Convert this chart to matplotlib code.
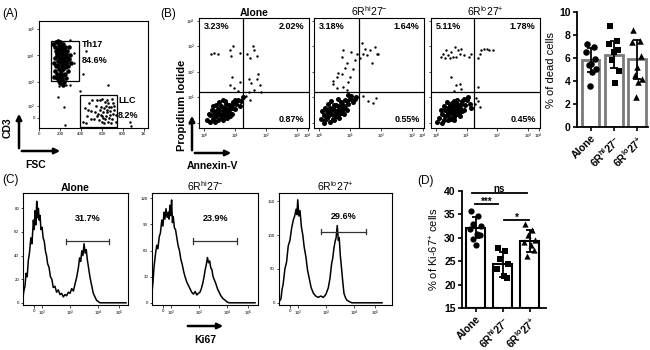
import matplotlib
matplotlib.use("Agg")
import matplotlib.pyplot as plt
from matplotlib.patches import Rectangle, FancyArrowPatch
import numpy as np

plt.rcParams['font.family'] = ['Liberation Sans', 'DejaVu Sans']
plt.rcParams['mathtext.default'] = 'regular'

W, H = 650, 350

# ---------------- data ----------------
# (A) FSC vs CD3 (CD3 in display decades)
th17_pts = [(150,4.3),(170,4.1),(190,4.4),(210,4.2),(230,4.0),(250,4.3),(270,3.9),(180,3.8),
            (200,3.9),(220,3.7),(240,3.8),(260,3.6),(160,3.6),(190,3.5),(210,3.4),(230,3.5),
            (250,3.3),(280,3.4),(170,3.3),(200,3.2),(220,3.1),(240,3.0),(150,3.9),(175,4.0),
            (195,4.1),(215,3.95),(235,4.15),(255,4.05),(205,4.5),(225,4.45),(185,3.65),(245,3.55),
            (265,3.75),(290,3.85),(300,4.0),(160,4.15),(140,3.7),(215,3.6),(230,3.85),(210,3.75),
            (190,3.95),(200,4.3),(240,4.25),(180,4.25),(270,4.15),(220,4.3),(205,3.3),(195,3.05),
            (225,3.25),(260,3.15),(280,3.6),(310,3.7),(150,3.4),(170,3.15),(200,2.95),(230,2.9),
            (215,4.05),(185,4.55),(245,3.65),(255,3.95),(135,4.45),(165,4.5),(285,4.3),(145,3.2)]
th17_out = [(300,4.6),(330,4.1),(330,3.7),(300,2.9),(260,2.9),(190,2.85),(181,2.43),(238,2.06),
            (248,1.38),(390,2.66),(657,2.89),(867,1.49),(880,1.35),(419,3.3),(448,4.17)]
llc_pts = [(420,1.5),(440,2.0),(460,1.7),(480,2.2),(500,1.9),(520,1.6),(540,2.1),(560,1.8),
           (580,2.3),(600,1.5),(620,2.0),(640,1.7),(660,2.2),(680,1.9),(700,1.6),(720,2.1),
           (570,1.55),(590,1.75),(610,1.85),(630,1.6),(650,1.95),(670,1.65),(690,2.05),(710,1.8),
           (730,1.5),(550,2.3),(600,2.35),(650,2.3),(700,2.35),(620,1.45),(660,1.5),(690,1.45),
           (530,1.85),(510,2.3),(450,1.45),(470,1.95),(590,2.05),(640,2.1),(675,1.75),(720,1.95),
           (600,1.7),(615,1.65),(645,1.85),(705,2.2),(735,1.75),(495,1.6),(555,1.7),(585,1.95),
           (625,2.25),(665,2.05)]
th17_pct, llc_pct = "84.6%", "8.2%"

# (B) Annexin-V vs PI (display decades)
flow_titles = ["Alone", "6R$^{hi}$27$^{-}$", "6R$^{lo}$27$^{+}$"]
core_alone = [(0.1,0.1),(0.2,0.3),(0.3,0.15),(0.35,0.4),(0.4,0.25),(0.45,0.55),(0.5,0.35),(0.55,0.2),
              (0.6,0.45),(0.65,0.6),(0.7,0.3),(0.75,0.5),(0.8,0.7),(0.85,0.4),(0.9,0.6),(0.95,0.8),
              (1.0,0.55),(1.05,0.75),(1.1,0.9),(1.2,0.85),(0.25,0.5),(0.3,0.65),(0.4,0.7),(0.5,0.8),
              (0.55,0.65),(0.6,0.9),(0.7,0.75),(0.45,0.1),(0.6,0.1),(0.75,0.2),(0.85,0.25),(0.15,0.35),
              (0.2,0.05),(0.35,0.05),(0.5,0.5),(0.65,0.4),(0.8,0.55),(0.9,0.35),(1.0,0.9),(1.15,0.65),
              (0.4,0.45),(0.55,0.3),(0.7,0.55),(0.3,0.3),(0.45,0.35),(0.62,0.25),(0.78,0.38),
              (0.92,0.7),(0.68,0.85),(1.25,1.0)]
sparse_alone = [(0.22,2.7),(0.32,2.73),(0.46,2.68),(0.84,2.83),(0.95,3.0),(0.87,2.6),(1.16,2.73),
                (0.91,1.81),(0.84,1.47),(0.97,1.37),(1.11,1.25),(1.16,1.59),(1.38,2.7),(1.58,3.0),
                (1.6,2.83),(1.48,2.53),(1.7,2.6),(1.75,1.92),(1.7,1.73),(1.45,1.7),(1.52,1.57),
                (1.8,1.5),(1.45,1.2),(1.6,1.28),(1.85,1.22),(1.5,0.91),(1.35,1.05)]
core_hi = [(0.05,0.15),(0.15,0.3),(0.2,0.1),(0.25,0.45),(0.3,0.25),(0.35,0.6),(0.4,0.35),(0.45,0.15),
           (0.5,0.5),(0.55,0.7),(0.6,0.3),(0.65,0.55),(0.7,0.8),(0.75,0.45),(0.8,0.65),(0.85,0.9),
           (0.9,0.5),(0.95,0.75),(1.0,0.95),(1.1,0.8),(1.2,1.0),(0.1,0.45),(0.2,0.6),(0.3,0.75),
           (0.4,0.85),(0.5,0.3),(0.55,0.45),(0.6,0.95),(0.7,0.6),(0.8,0.35),(0.35,0.05),(0.5,0.1),
           (0.65,0.2),(0.15,0.0),(0.45,0.55),(0.6,0.65),(0.75,0.75),(0.9,0.85),(1.05,1.05),(0.25,0.2),
           (0.4,0.5),(0.55,0.25),(0.7,0.4),(0.85,0.6),(0.3,0.4),(0.48,0.68),(0.62,0.48),(0.78,0.58),
           (1.15,0.95),(0.95,1.1)]
sparse_hi = [(0.46,1.65),(0.57,1.78),(0.73,1.9),(0.84,2.15),(0.89,2.33),(0.73,2.58),(1.05,2.77),
             (0.57,1.35),(0.78,1.41),(0.95,1.59),(1.11,2.09),(1.16,2.46),(1.22,2.7),(1.0,1.78),
             (0.44,1.53),(0.62,1.96),(0.89,1.28),(0.78,2.83),(1.38,3.14),(1.48,2.89),(1.65,2.83),
             (1.81,2.95),(1.92,2.7),(1.7,2.33),(1.42,2.7),(1.55,2.64),(1.87,2.7),(1.33,2.52),
             (1.57,0.85),(1.73,0.79),(1.84,0.98),(1.41,1.04)]
core_lo = [(0.1,0.2),(0.2,0.35),(0.25,0.1),(0.3,0.5),(0.35,0.3),(0.4,0.6),(0.45,0.2),(0.5,0.4),
           (0.55,0.65),(0.6,0.3),(0.65,0.5),(0.7,0.75),(0.75,0.4),(0.8,0.6),(0.85,0.85),(0.9,0.5),
           (0.95,0.7),(1.0,0.9),(1.1,0.75),(0.15,0.5),(0.25,0.65),(0.35,0.8),(0.45,0.45),(0.5,0.15),
           (0.55,0.5),(0.6,0.85),(0.7,0.35),(0.75,0.6),(0.8,0.25),(0.4,0.1),(0.6,0.1),(0.2,0.0),
           (0.45,0.7),(0.65,0.65),(0.85,0.45),(1.05,1.0),(0.3,0.25),(0.5,0.55),(0.62,0.4),(0.72,0.55),
           (0.9,0.95),(0.38,0.4),(0.58,0.22),(0.68,0.9),(0.05,0.05),(1.15,0.6),(0.82,0.72),(0.52,0.78)]
sparse_lo = [(0.15,2.58),(0.23,2.7),(0.32,2.83),(0.39,2.64),(0.5,2.77),(0.61,2.95),(0.66,2.58),
             (0.77,2.7),(0.82,2.89),(0.93,2.64),(0.29,2.52),(0.45,2.52),(0.72,2.83),(0.56,2.58),
             (1.09,2.58),(1.15,2.7),(0.5,1.78),(0.66,1.47),(0.77,1.53),(0.82,1.32),(0.58,1.25),
             (1.37,2.52),(1.42,2.7),(1.47,2.83),(1.55,2.89),(1.66,2.89),(1.74,2.83),(1.85,2.86),
             (1.37,1.41),(1.31,0.97),(1.37,0.86),(1.42,0.62),(1.26,0.74)]
quad_pcts = [("3.23%", "2.02%", "0.87%"), ("3.18%", "1.64%", "0.55%"), ("5.11%", "1.78%", "0.45%")]

# (B) bar chart: % of dead cells
groups = ["Alone", "6R$^{hi}$27$^{-}$", "6R$^{lo}$27$^{+}$"]
dead_mean = [5.8, 6.3, 5.9]
dead_sd = [1.05, 1.2, 1.7]
dead_alone = [7.25, 6.96, 6.5, 5.9, 5.5, 5.36, 5.07, 4.78, 3.54]
dead_hi = [8.8, 7.5, 7.2, 6.7, 6.5, 5.8, 4.9, 3.8]
dead_lo = [8.4, 7.5, 7.4, 6.2, 5.2, 4.5, 4.2, 3.9, 2.6]

# (C) Ki67 histograms (x in display decades)
ki_x1 = [1.31,1.35,1.39,1.43,1.47,1.51,1.55,1.6,1.64,1.69,1.72,1.75,1.78,1.81,1.84,1.87,1.9,1.93,
         1.96,2.0,2.04,2.08,2.12,2.16,2.2,2.25,2.3,2.35,2.4,2.46,2.52,2.58,2.64,2.7,2.76,2.82,2.88,
         2.94,3.0,3.06,3.12,3.18,3.24,3.3,3.34,3.38,3.42,3.46,3.5,3.54,3.58,3.62,3.66,3.71,3.77,
         3.83,3.89,3.95,4.01,4.07,4.2,4.4,4.7,5.0]
ki_y1 = [3,10,14,25,22,36,42,55,50,70,62,78,66,86,72,80,70,74,62,64,55,52,44,40,33,30,22,20,13,14,
         9,11,7,8,5,7,6,9,8,12,10,16,22,30,38,35,44,40,50,42,45,36,30,22,15,8,5,2,1,0,0,0,0,0]
ki_x2 = [1.31,1.35,1.39,1.44,1.49,1.53,1.58,1.62,1.67,1.71,1.75,1.78,1.82,1.86,1.9,1.93,1.96,1.99,
         2.02,2.05,2.08,2.12,2.16,2.2,2.25,2.3,2.35,2.4,2.45,2.5,2.56,2.62,2.68,2.74,2.8,2.86,2.92,
         2.98,3.03,3.08,3.13,3.18,3.22,3.26,3.3,3.34,3.38,3.42,3.46,3.5,3.55,3.6,3.66,3.72,3.78,
         3.85,3.93,4.0,4.07,4.2,4.5,4.8,5.0]
ki_y2 = [8,22,40,55,66,62,76,80,95,88,104,96,108,98,104,96,112,100,118,92,99,86,84,76,66,60,50,44,
         36,30,24,20,16,12,10,13,9,11,12,16,22,30,38,44,52,46,48,40,38,30,26,22,16,12,8,5,3,1,0,0,
         0,0,0]
ki_x3 = [1.33,1.39,1.43,1.47,1.53,1.59,1.65,1.71,1.77,1.83,1.88,1.93,1.96,1.99,2.03,2.07,2.12,2.17,
         2.22,2.28,2.34,2.4,2.47,2.55,2.63,2.72,2.81,2.9,2.99,3.08,3.14,3.2,3.24,3.28,3.32,3.36,
         3.4,3.44,3.47,3.51,3.56,3.6,3.64,3.69,3.74,3.82,3.92,4.05,4.3,4.6,5.0]
ki_y3 = [2,6,20,28,50,60,84,92,110,122,128,138,130,152,128,136,112,100,82,68,48,36,22,14,10,8,10,
         8,12,22,36,58,66,80,90,96,114,92,96,70,48,30,14,8,4,2,0,0,0,0,0]
ki_pcts = ["31.7%", "23.9%", "29.6%"]
ki_gates = [(2.84, 4.4), (2.8, 4.35), (2.82, 4.43)]

# (D) % of Ki-67+ cells
ki_mean = [32.2, 24.3, 29.3]
ki_sd = [2.2, 2.6, 2.3]
ki_alone = [35.7, 34.7, 33.0, 32.6, 31.9, 30.9, 30.5, 29.8, 28.5]
ki_hi = [27.8, 27.1, 25.4, 24.3, 23.3, 21.9, 21.4]
ki_lo = [33.0, 31.6, 30.5, 29.5, 29.1, 28.5, 27.4, 26.1]

# ---------------- layout helpers ----------------
fig = plt.figure(figsize=(6.5, 3.5), dpi=100)


def box(x0, y0, x1, y1):
    return fig.add_axes([x0 / W, 1 - y1 / H, (x1 - x0) / W, (y1 - y0) / H])


def ftext(x, y, s, **kw):
    fig.text(x / W, 1 - y / H, s, **kw)


def farrow(x0, y0, x1, y1):
    fig.add_artist(FancyArrowPatch((x0 / W, 1 - y0 / H), (x1 / W, 1 - y1 / H),
                                   transform=fig.transFigure, arrowstyle='-|>',
                                   mutation_scale=8, lw=1.8, color='k'))


def flow_style(ax, ylab=True):
    for s in ax.spines.values():
        s.set_linewidth(0.8)
    ax.tick_params(labelsize=3.2, length=1.8, width=0.5, pad=1)
    if not ylab:
        ax.set_yticklabels([])


def xy(pts):
    return np.array(pts, dtype=float).T


dec_labels = ["$10^{0}$", "$10^{1}$", "$10^{2}$", "$10^{3}$", "$10^{4}$"]

# ---------------- (A) ----------------
axA = box(39, 21, 148, 128)
for pts, sz in [(th17_pts, 11), (th17_out, 3), (llc_pts, 3.5)]:
    px, py = xy(pts)
    axA.scatter(px, py, s=sz, c='k', lw=0, marker='o')
axA.add_patch(Rectangle((114, 3.04), 267, 1.51, fill=False, lw=0.9))
axA.add_patch(Rectangle((390, 1.3), 353, 1.21, fill=False, lw=0.9))
axA.text(410, 4.4, "Th17", fontsize=6.5, fontweight='bold', va='center')
axA.text(410, 3.8, th17_pct, fontsize=6.5, fontweight='bold', va='center')
axA.text(760, 2.3, "LLC", fontsize=6.5, fontweight='bold', va='center')
axA.text(750, 1.75, llc_pct, fontsize=6.5, fontweight='bold', va='center')
axA.set_xlim(0, 1040)
axA.set_ylim(1.26, 5.3)
axA.set_xticks([0, 200, 400, 600, 800, 1000], ["0", "200", "400", "600", "800", "1K"])
axA.set_yticks([1.65, 2.1, 3, 4, 5], ["0", "$10^{2}$", "$10^{3}$", "$10^{4}$", "$10^{5}$"])
flow_style(axA)

ftext(2, 14, "(A)", fontsize=8.5, va='center')
farrow(19, 151, 19, 111)
farrow(19, 151, 63, 151)
ftext(8, 128, "CD3", fontsize=7.5, fontweight='bold', rotation=90, ha='center', va='center')
ftext(36, 165, "FSC", fontsize=7.5, fontweight='bold', ha='center', va='center')

# ---------------- (B) flow ----------------
flow_boxes = [(199, 309), (314, 424), (431, 540)]
cores = [core_alone, core_hi, core_lo]
sparses = [sparse_alone, sparse_hi, sparse_lo]
vlines = [1.26, 1.29, 1.23]
for i, (x0, x1) in enumerate(flow_boxes):
    ax = box(x0, 18, x1, 128)
    cx, cy = xy(cores[i])
    ax.scatter(cx, cy, s=13, c='k', lw=0, marker='o')
    sx, sy = xy(sparses[i])
    ax.scatter(sx, sy, s=3, c='k', lw=0, marker='o')
    ax.axvline(vlines[i], color='k', lw=0.9)
    ax.axhline(1.19, color='k', lw=0.9)
    ul, ur, lr = quad_pcts[i]
    kw = dict(fontsize=6.5, fontweight='bold', transform=ax.transAxes)
    ax.text(0.04, 0.96, ul, ha='left', va='top', **kw)
    ax.text(0.96, 0.96, ur, ha='right', va='top', **kw)
    ax.text(0.96, 0.04, lr, ha='right', va='bottom', **kw)
    ax.set_xlim(-0.16, 3.39)
    ax.set_ylim(-0.2, 4.1)
    ax.set_xticks([0, 1, 2, 3, 3.35], dec_labels)
    ax.set_yticks([0, 1, 2, 3, 4], dec_labels)
    ax.set_title(flow_titles[i], fontsize=7.5, pad=1.5,
                 fontweight='bold' if i == 0 else 'normal')
    flow_style(ax, ylab=(i == 0))

ftext(160, 14, "(B)", fontsize=8.5, va='center')
ftext(182, 105, "Propidium Iodide", fontsize=8, fontweight='bold', rotation=90,
      ha='center', va='center')
farrow(192, 153, 192, 113)
farrow(192, 153, 234, 153)
ftext(212, 166, "Annexin-V", fontsize=7.5, fontweight='bold', ha='center', va='center')

# ---------------- (B) bar ----------------
axBb = box(577, 12, 648, 127)
xb = np.arange(3)
axBb.bar(xb, dead_mean, width=0.75, color='white', edgecolor='#7a7a7a', lw=2, zorder=1)
axBb.errorbar(xb, dead_mean, yerr=dead_sd, fmt='none', ecolor='k', elinewidth=1.3,
              capsize=3, capthick=1.3, zorder=3)
jit_b = [-0.15, 0.12, -0.2, 0.18, 0.0, -0.1, 0.22, 0.06, -0.05]
for i, (vals, mk) in enumerate([(dead_alone, 'o'), (dead_hi, 's'), (dead_lo, '^')]):
    axBb.scatter(i + np.array(jit_b[:len(vals)]), vals, s=22, c='k', marker=mk, lw=0, zorder=4)
axBb.set_xlim(-0.6, 2.48)
axBb.set_ylim(0, 10)
axBb.set_yticks([0, 2, 4, 6, 8, 10])
axBb.set_xticks(xb, groups, rotation=45, ha='right', rotation_mode='anchor')
axBb.spines[['top', 'right']].set_visible(False)
axBb.spines[['left', 'bottom']].set_linewidth(1.3)
axBb.tick_params(labelsize=7.5, width=1.2, length=3, pad=1.5)
for lab in axBb.get_xticklabels() + axBb.get_yticklabels():
    lab.set_fontweight('bold')
axBb.set_ylabel("% of dead cells", fontsize=8, labelpad=2)

# ---------------- (C) histograms ----------------
hist_boxes = [(23, 128), (152, 258), (279, 392)]
hist_x = [ki_x1, ki_x2, ki_x3]
hist_y = [ki_y1, ki_y2, ki_y3]
hist_ylims = [93, 126, 162]
hist_yticks = [[0, 20, 40, 60, 80], [0, 30, 60, 90, 120], [0, 50, 100, 150]]
gate_y = [52, 71, 105]
lab_y = [71, 97, 128]
for i, (x0, x1) in enumerate(hist_boxes):
    ax = box(x0, 193, x1, 305)
    ax.plot(hist_x[i], hist_y[i], color='k', lw=1.1)
    g0, g1 = ki_gates[i]
    cap = hist_ylims[i] * 0.025
    ax.plot([g0, g1], [gate_y[i], gate_y[i]], color='#333333', lw=0.9)
    ax.plot([g0, g0], [gate_y[i] - cap, gate_y[i] + cap], color='#333333', lw=0.9)
    ax.plot([g1, g1], [gate_y[i] - cap, gate_y[i] + cap], color='#333333', lw=0.9)
    ax.text((g0 + g1) / 2, lab_y[i], ki_pcts[i], fontsize=6.5, fontweight='bold',
            ha='center', va='center')
    ax.set_xlim(1.32, 1.32 + (x1 - x0) / 28)
    ax.set_ylim(-hist_ylims[i] * 0.02, hist_ylims[i])
    ax.set_xticks([1.7, 2, 3, 4, 4.75],
                  ["0", "$10^{2}$", "$10^{3}$", "$10^{4}$", "$10^{5}$"])
    ax.set_yticks(hist_yticks[i])
    ax.set_title(flow_titles[i], fontsize=7.5, pad=1.5,
                 fontweight='bold' if i == 0 else 'normal')
    flow_style(ax)

ftext(2, 180, "(C)", fontsize=8.5, va='center')
farrow(185, 326, 226, 326)
ftext(205, 340, "Ki67", fontsize=7.5, fontweight='bold', ha='center', va='center')

# ---------------- (D) ----------------
axD = box(462, 191, 546, 308)
xd = np.arange(3)
axD.bar(xd, [m - 15 for m in ki_mean], bottom=15, width=0.7, color='white',
        edgecolor='k', lw=1.5, zorder=1)
axD.errorbar(xd, ki_mean, yerr=ki_sd, fmt='none', ecolor='k', elinewidth=1.3,
             capsize=3, capthick=1.3, zorder=3)
jit_d = [-0.18, 0.1, -0.08, 0.2, -0.2, 0.05, 0.15, -0.1, 0.0]
for i, (vals, mk) in enumerate([(ki_alone, 'o'), (ki_hi, 's'), (ki_lo, '^')]):
    axD.scatter(i + np.array(jit_d[:len(vals)]), vals, s=20, c='k', marker=mk, lw=0, zorder=4)
sig = [(-0.13, 1.9, 39.6, "ns", 0.9), (-0.02, 0.83, 37.2, "***", 0.5), (1.05, 1.97, 33.8, "*", 0.5)]
for a, b, yy, s, off in sig:
    axD.plot([a, b], [yy, yy], color='k', lw=1.3, clip_on=False)
    axD.text((a + b) / 2, yy + off, s, fontsize=7, fontweight='bold', ha='center', va='center')
axD.set_xlim(-0.5, 2.6)
axD.set_ylim(15, 40)
axD.set_yticks([15, 20, 25, 30, 35, 40])
axD.set_xticks(xd, groups, rotation=45, ha='right', rotation_mode='anchor')
axD.spines[['top', 'right']].set_visible(False)
axD.spines[['left', 'bottom']].set_linewidth(1.3)
axD.tick_params(labelsize=7.5, width=1.2, length=3, pad=1.5)
for lab in axD.get_xticklabels() + axD.get_yticklabels():
    lab.set_fontweight('bold')
axD.set_ylabel("% of Ki-67$^{+}$ cells", fontsize=8, labelpad=2)
ftext(417, 181, "(D)", fontsize=8.5, va='center')

fig.savefig("out.png", dpi=100)
